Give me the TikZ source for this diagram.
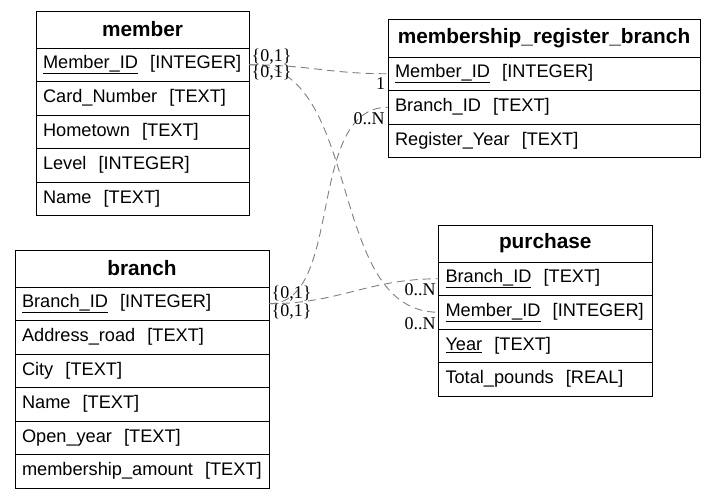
\documentclass[tikz,border=0pt]{standalone}
\usepackage{fontspec}
\setmainfont{Liberation Serif}
\setsansfont{Liberation Sans}
\usepackage{tikz}
\usetikzlibrary{positioning}

\begin{document}
\begin{tikzpicture}[
        x=1pt, y=1pt,
        line width=1pt,
        tbl/.style={
            draw=black,
            outer sep=0pt,
            inner xsep=7pt,
            inner ysep=0pt,
            font=\sffamily\fontsize{18.2}{22}\selectfont
        },
        hdr/.style={
            tbl,
            anchor=north,
            align=center,
            minimum height=37pt,
            font=\sffamily\bfseries\fontsize{20.8}{24}\selectfont
        },
        fld/.style={
            tbl,
            align=left,
            minimum height=33.5pt
        },
        rel/.style={
            draw=black!50,
            line width=0.9pt,
            dash pattern=on 8pt off 5pt
        },
        card/.style={
            font=\fontsize{18}{20}\selectfont,
            inner sep=0pt
        }
    ]

        \useasboundingbox (0,0) rectangle (719,-498);

        % member
        \node[hdr, text width=199pt] (member) at (142.5,-11) {member};
        \node[fld, text width=199pt, below=0pt of member] (memberID) {\underline{Member\_ID}\ \ [INTEGER]};
        \node[fld, text width=199pt, below=0pt of memberID] (memberCard) {Card\_Number\ \ [TEXT]};
        \node[fld, text width=199pt, below=0pt of memberCard] (memberTown) {Hometown\ \ [TEXT]};
        \node[fld, text width=199pt, below=0pt of memberTown] (memberLevel) {Level\ \ [INTEGER]};
        \node[fld, text width=199pt, below=0pt of memberLevel] (memberName) {Name\ \ [TEXT]};

        % membership_register_branch
        \node[hdr, text width=298pt, minimum height=38pt] (mrb) at (544,-19) {membership\_register\_branch};
        \node[fld, text width=298pt, below=0pt of mrb] (mrbMember) {\underline{Member\_ID}\ \ [INTEGER]};
        \node[fld, text width=298pt, below=0pt of mrbMember] (mrbBranch) {Branch\_ID\ \ [TEXT]};
        \node[fld, text width=298pt, below=0pt of mrbBranch] (mrbYear) {Register\_Year\ \ [TEXT]};

        % branch
        \node[hdr, text width=240pt] (branch) at (142,-250) {branch};
        \node[fld, text width=240pt, below=0pt of branch] (branchID) {\underline{Branch\_ID}\ \ [INTEGER]};
        \node[fld, text width=240pt, below=0pt of branchID] (branchRoad) {Address\_road\ \ [TEXT]};
        \node[fld, text width=240pt, below=0pt of branchRoad] (branchCity) {City\ \ [TEXT]};
        \node[fld, text width=240pt, below=0pt of branchCity] (branchName) {Name\ \ [TEXT]};
        \node[fld, text width=240pt, below=0pt of branchName] (branchOpen) {Open\_year\ \ [TEXT]};
        \node[fld, text width=240pt, below=0pt of branchOpen] (branchAmount) {membership\_amount\ \ [TEXT]};

        % purchase
        \node[hdr, text width=199.5pt] (purchase) at (545.25,-225) {purchase};
        \node[fld, text width=199.5pt, below=0pt of purchase] (purchBranch) {\underline{Branch\_ID}\ \ [TEXT]};
        \node[fld, text width=199.5pt, below=0pt of purchBranch] (purchMember) {\underline{Member\_ID}\ \ [INTEGER]};
        \node[fld, text width=199.5pt, below=0pt of purchMember] (purchYear) {\underline{Year}\ \ [TEXT]};
        \node[fld, text width=199.5pt, below=0pt of purchYear] (purchTotal) {Total\_pounds\ \ [REAL]};

        % relations
        \draw[rel] (memberID.east) .. controls +(60,0) and +(-60,0) .. (mrbMember.west);
        \draw[rel] (memberID.east) .. controls +(116,0) and +(-114,0) .. (purchMember.west);
        \draw[rel] (branchID.east) .. controls +(76,0) and +(-83,0) .. (mrbBranch.west);
        \draw[rel] (branchID.east) .. controls +(70,0) and +(-70,0) .. (purchBranch.west);

        % cardinalities
        \node[card] (cardMemA) at (271.5,-56.5) {\{0,1\}};
        \node[card] (cardMemB) at (271.5,-73) {\{0,1\}};
        \node[card] (cardMrbA) at (380.5,-83.5) {1};
        \node[card] (cardMrbB) at (369,-118.5) {0..N};
        \node[card] (cardBrA) at (291.5,-294) {\{0,1\}};
        \node[card] (cardBrB) at (291.5,-311.5) {\{0,1\}};
        \node[card] (cardPuA) at (420,-290) {0..N};
        \node[card] (cardPuB) at (420,-323.5) {0..N};

    \end{tikzpicture}
\end{document}
